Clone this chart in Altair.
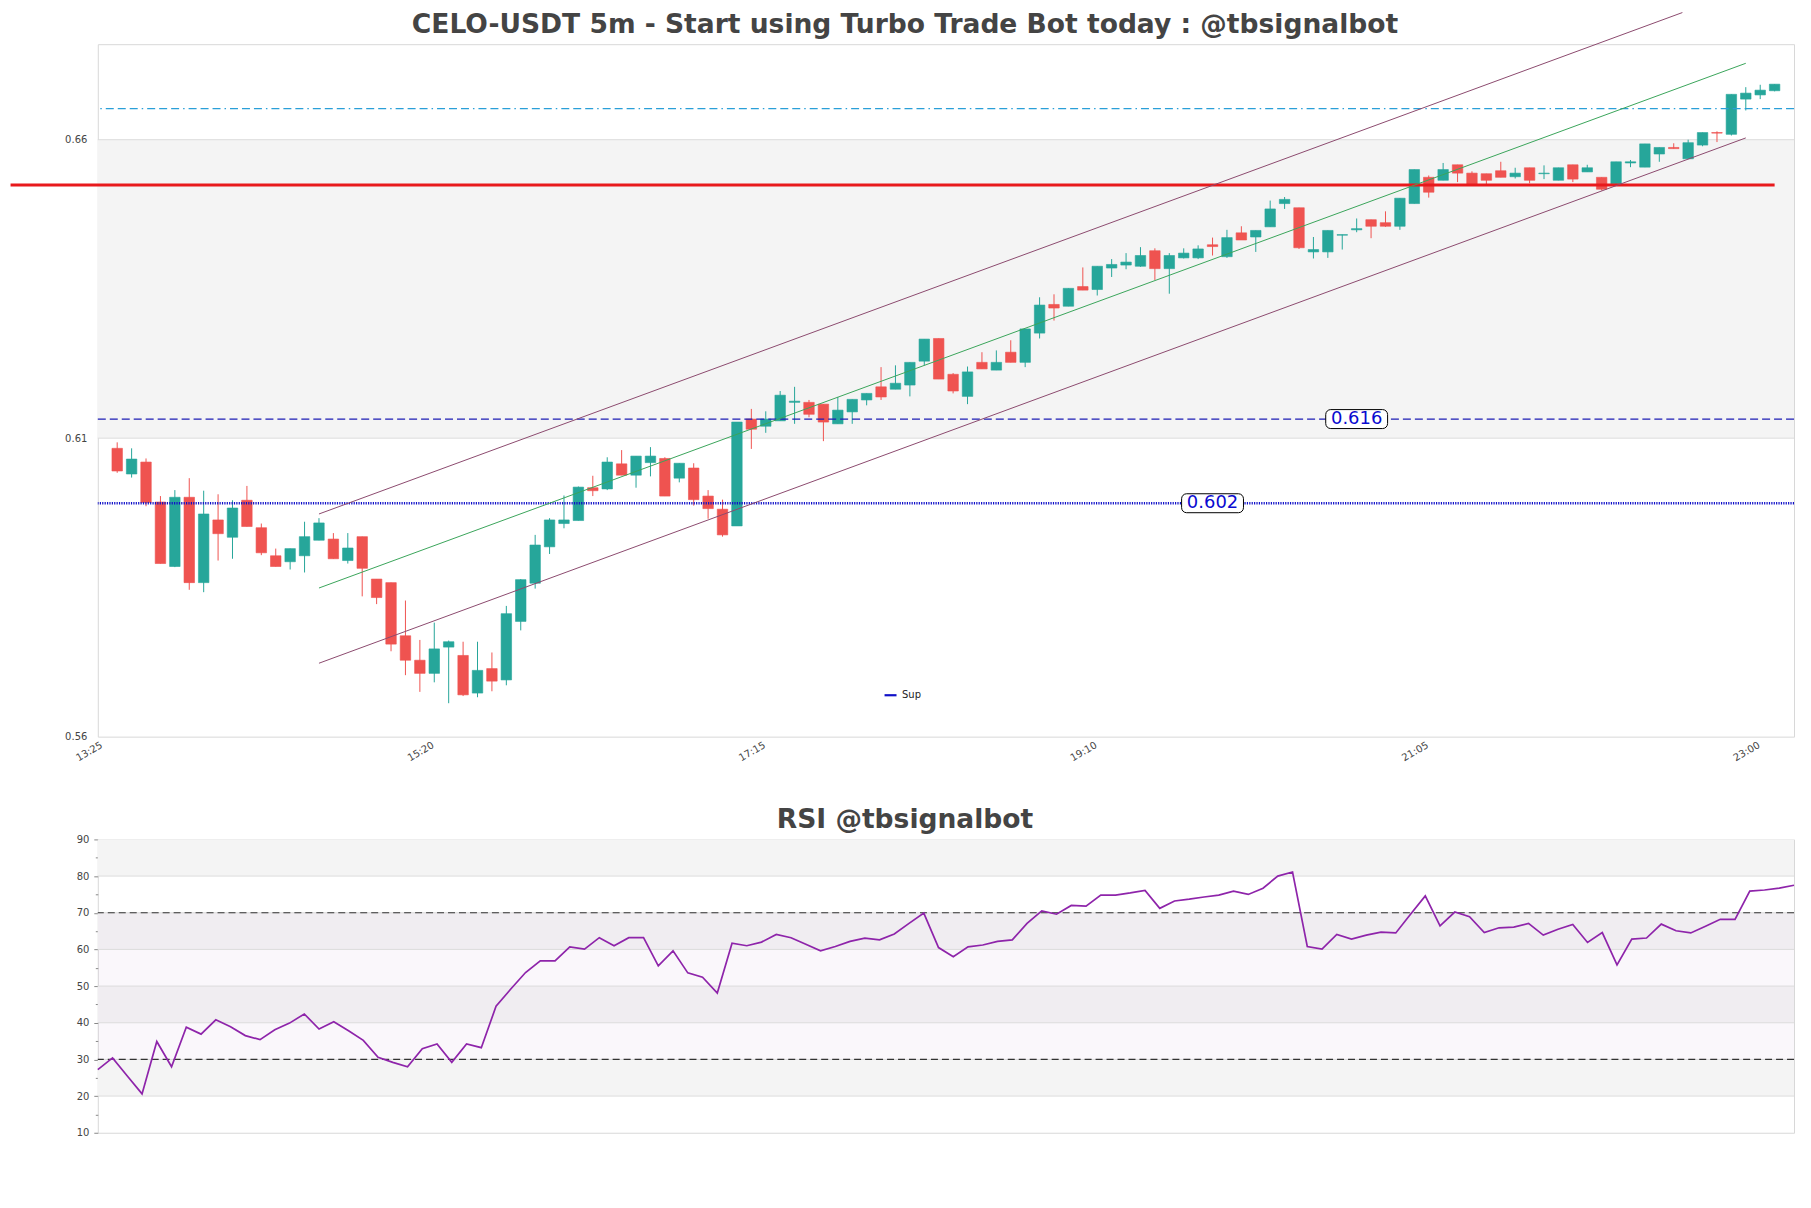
import altair as alt
import pandas as pd

# ---------------- data ----------------
START = "2024-01-01 13:30"   # first candle, 5-minute candles

opens = [0.6083, 0.6040, 0.6060, 0.5993, 0.5885, 0.6001, 0.5858, 0.5963, 0.5934, 0.5996,
         0.5950, 0.5903, 0.5893, 0.5903, 0.5929, 0.5931, 0.5895, 0.5935, 0.5864, 0.5858,
         0.5769, 0.5728, 0.5706, 0.5750, 0.5736, 0.5673, 0.5714, 0.5695, 0.5793, 0.5857,
         0.5918, 0.5957, 0.5962, 0.6017, 0.6015, 0.6057, 0.6038, 0.6059, 0.6066, 0.6033,
         0.6050, 0.6003, 0.5981, 0.5953, 0.6132, 0.6120, 0.6129, 0.6160, 0.6160, 0.6157,
         0.6124, 0.6144, 0.6164, 0.6186, 0.6182, 0.6189, 0.6229, 0.6267, 0.6207, 0.6170,
         0.6227, 0.6214, 0.6244, 0.6227, 0.6276, 0.6324, 0.6321, 0.6354, 0.6349, 0.6385,
         0.6390, 0.6388, 0.6414, 0.6384, 0.6402, 0.6402, 0.6424, 0.6404, 0.6444, 0.6437,
         0.6454, 0.6493, 0.6486, 0.6412, 0.6412, 0.6440, 0.6449, 0.6466, 0.6461, 0.6455,
         0.6493, 0.6537, 0.6532, 0.6558, 0.6544, 0.6543, 0.6548, 0.6538, 0.6553, 0.6543,
         0.6532, 0.6558, 0.6546, 0.6537, 0.6526, 0.6561, 0.6554, 0.6576, 0.6587, 0.6568,
         0.6591, 0.6612, 0.6609, 0.6668, 0.6675, 0.6682]

highs = [0.6093, 0.6083, 0.6066, 0.6003, 0.6013, 0.6033, 0.6012, 0.6006, 0.5996, 0.6020,
         0.5957, 0.5915, 0.5915, 0.5960, 0.5966, 0.5941, 0.5941, 0.5935, 0.5864, 0.5858,
         0.5828, 0.5762, 0.5791, 0.5761, 0.5759, 0.5759, 0.5741, 0.5819, 0.5864, 0.5938,
         0.5966, 0.6004, 0.6019, 0.6037, 0.6068, 0.6080, 0.6070, 0.6085, 0.6068, 0.6058,
         0.6058, 0.6013, 0.5997, 0.6127, 0.6149, 0.6145, 0.6179, 0.6186, 0.6164, 0.6157,
         0.6169, 0.6165, 0.6175, 0.6219, 0.6222, 0.6227, 0.6266, 0.6267, 0.6209, 0.6220,
         0.6244, 0.6247, 0.6264, 0.6283, 0.6336, 0.6341, 0.6351, 0.6386, 0.6388, 0.6400,
         0.6410, 0.6420, 0.6418, 0.6410, 0.6418, 0.6423, 0.6436, 0.6449, 0.6455, 0.6448,
         0.6498, 0.6504, 0.6486, 0.6437, 0.6448, 0.6441, 0.6468, 0.6466, 0.6480, 0.6502,
         0.6550, 0.6540, 0.6561, 0.6558, 0.6547, 0.6543, 0.6563, 0.6553, 0.6553, 0.6557,
         0.6553, 0.6558, 0.6558, 0.6537, 0.6563, 0.6566, 0.6593, 0.6587, 0.6594, 0.6600,
         0.6612, 0.6614, 0.6676, 0.6688, 0.6692, 0.6693]

lows = [0.6042, 0.6034, 0.5986, 0.5890, 0.5884, 0.5846, 0.5842, 0.5895, 0.5898, 0.5952,
        0.5904, 0.5885, 0.5880, 0.5875, 0.5929, 0.5898, 0.5890, 0.5835, 0.5822, 0.5743,
        0.5703, 0.5675, 0.5691, 0.5656, 0.5668, 0.5666, 0.5676, 0.5686, 0.5778, 0.5848,
        0.5906, 0.5949, 0.5962, 0.6003, 0.6013, 0.6038, 0.6017, 0.6036, 0.6003, 0.6026,
        0.5987, 0.5965, 0.5935, 0.5953, 0.6082, 0.6109, 0.6129, 0.6124, 0.6135, 0.6095,
        0.6124, 0.6124, 0.6155, 0.6164, 0.6182, 0.6170, 0.6222, 0.6199, 0.6175, 0.6157,
        0.6216, 0.6214, 0.6227, 0.6219, 0.6267, 0.6297, 0.6321, 0.6348, 0.6339, 0.6370,
        0.6383, 0.6387, 0.6365, 0.6342, 0.6401, 0.6400, 0.6406, 0.6402, 0.6432, 0.6412,
        0.6454, 0.6484, 0.6417, 0.6401, 0.6402, 0.6416, 0.6445, 0.6435, 0.6454, 0.6449,
        0.6493, 0.6503, 0.6532, 0.6529, 0.6524, 0.6524, 0.6537, 0.6535, 0.6527, 0.6534,
        0.6532, 0.6529, 0.6546, 0.6515, 0.6524, 0.6554, 0.6554, 0.6563, 0.6585, 0.6568,
        0.6589, 0.6596, 0.6607, 0.6649, 0.6668, 0.6681]

closes = [0.6045, 0.6065, 0.5992, 0.5890, 0.6001, 0.5858, 0.5973, 0.5940, 0.5983, 0.5952,
          0.5908, 0.5885, 0.5915, 0.5935, 0.5958, 0.5898, 0.5916, 0.5882, 0.5833, 0.5755,
          0.5728, 0.5706, 0.5747, 0.5759, 0.5670, 0.5711, 0.5693, 0.5806, 0.5863, 0.5921,
          0.5963, 0.5963, 0.6018, 0.6012, 0.6060, 0.6038, 0.6070, 0.6070, 0.6003, 0.6058,
          0.5997, 0.5982, 0.5938, 0.6127, 0.6115, 0.6132, 0.6172, 0.6162, 0.6140, 0.6127,
          0.6147, 0.6165, 0.6175, 0.6169, 0.6192, 0.6227, 0.6266, 0.6199, 0.6179, 0.6211,
          0.6216, 0.6227, 0.6227, 0.6283, 0.6323, 0.6318, 0.6351, 0.6348, 0.6388, 0.6391,
          0.6395, 0.6406, 0.6384, 0.6406, 0.6410, 0.6417, 0.6421, 0.6436, 0.6432, 0.6448,
          0.6484, 0.6500, 0.6419, 0.6416, 0.6448, 0.6441, 0.6451, 0.6455, 0.6455, 0.6502,
          0.6550, 0.6512, 0.6550, 0.6544, 0.6524, 0.6532, 0.6537, 0.6544, 0.6532, 0.6544,
          0.6553, 0.6534, 0.6553, 0.6517, 0.6563, 0.6563, 0.6593, 0.6587, 0.6585, 0.6595,
          0.6612, 0.6611, 0.6676, 0.6678, 0.6683, 0.6693]

rsi = [27.2, 30.4, 25.5, 20.6, 34.9, 28.0, 38.8, 36.9, 40.8, 38.9,
       36.5, 35.4, 38.1, 39.9, 42.4, 38.3, 40.3, 37.8, 35.2, 30.6,
       29.2, 28.0, 32.9, 34.2, 29.2, 34.2, 33.2, 44.5, 49.2, 53.7,
       56.9, 56.9, 60.7, 60.1, 63.2, 61.0, 63.2, 63.2, 55.5, 59.6,
       53.6, 52.4, 48.1, 61.7, 61.0, 62.0, 64.1, 63.2, 61.4, 59.6,
       60.8, 62.2, 63.1, 62.6, 64.2, 67.1, 69.9, 60.5, 58.0, 60.7,
       61.2, 62.2, 62.6, 67.1, 70.5, 69.6, 72.0, 71.8, 74.8, 74.8,
       75.4, 76.1, 71.2, 73.2, 73.7, 74.3, 74.8, 75.9, 75.0, 76.7,
       80.0, 81.1, 60.8, 60.1, 64.1, 62.8, 63.9, 64.7, 64.5, 69.6,
       74.6, 66.4, 70.2, 68.9, 64.6, 65.9, 66.1, 67.1, 63.9, 65.5,
       66.8, 61.9, 64.6, 55.8, 62.8, 63.1, 66.9, 65.1, 64.5, 66.3,
       68.2, 68.2, 75.9, 76.2, 76.7, 77.5]

# x-axis tick labels
tick_times = ["13:25", "15:20", "17:15", "19:10", "21:05", "23:00"]
x_start, x_end = "13:25", "23:10"
rsi_x_start, rsi_x_end = "13:30", "23:05"
price_ticks = [0.56, 0.61, 0.66]
price_domain = [0.56, 0.676]
price_band = [0.61, 0.66]

# horizontal levels
resist_level = 0.6524           # thick red line
resist_times = ["12:53", "23:05"]
top_level = 0.6652              # light blue dash-dot
sup1_level, sup1_label, sup1_label_time = 0.6132, "0.616", "20:40"
sup2_level, sup2_label, sup2_label_time = 0.5991, "0.602", "19:50"

# regression channel
chan_times = ["14:40", "22:55"]
chan_mid = [0.5849, 0.6728]
chan_low = [0.5723, 0.6603]
chan_up_times = ["14:40", "22:33"]
chan_up = [0.5973, 0.6813]

# RSI panel
rsi_ticks = list(range(10, 95, 5))
rsi_gray_lo = [20, 40, 60, 80]
rsi_gray_hi = [30, 50, 70, 90]
rsi_grid = [20, 30, 40, 50, 60, 70, 80]
rsi_levels = [30, 70]

GREEN, RED = "#26a69a", "#ef5350"
FONT = "DejaVu Sans"

# ---------------- helpers ----------------
DAY = "2024-01-01"


def ts(hm):
    parts = hm.split(":")
    if len(parts) == 2:
        hm = hm + ":00"
    return f"{DAY}T{hm}"


def dt(hm):
    p = [int(v) for v in hm.split(":")]
    s = p[2] if len(p) > 2 else 0
    return alt.DateTime(year=2024, month=1, date=1, hours=p[0], minutes=p[1], seconds=s)


times = pd.date_range(START, periods=len(opens), freq="5min")
tstr = [t.strftime("%Y-%m-%dT%H:%M:%S") for t in times]

candles = pd.DataFrame({"t": tstr, "open": opens, "high": highs,
                        "low": lows, "close": closes})

xsc = alt.Scale(domain=[dt(x_start), dt(x_end)], nice=False)
xax = alt.Axis(values=[dt(t) for t in tick_times], format="%H:%M", labelAngle=330,
               labelAlign="right", labelBaseline="top", ticks=False, grid=False,
               domain=False, labelPadding=3, labelOffset=-4, labelFontSize=10,
               labelColor="#444", labelFont=FONT)
ysc = alt.Scale(domain=price_domain, nice=False, zero=False)
yax = alt.Axis(values=price_ticks, format=".2f", ticks=False, grid=False, domain=False,
               labelPadding=11, labelFontSize=10, labelColor="#444", labelFont=FONT)


def X(f):
    return alt.X(f, type="temporal", scale=xsc, axis=xax, title=None)


def Y(f):
    return alt.Y(f, type="quantitative", scale=ysc, axis=yax, title=None)


up_cond = alt.condition("datum.close >= datum.open", alt.value(GREEN), alt.value(RED))

band = alt.Chart(pd.DataFrame({"lo": [price_band[0]], "hi": [price_band[1]]})).mark_rect(
    color="#f4f4f4").encode(y=Y("lo"), y2="hi")
grid = alt.Chart(pd.DataFrame({"v": price_ticks[1:]})).mark_rule(
    color="#dcdcdc", strokeWidth=1).encode(y=Y("v"))

wicks = alt.Chart(candles).mark_rule(strokeWidth=1).encode(
    x=X("t"), y=Y("low"), y2="high", color=up_cond)
bodies = alt.Chart(candles).mark_bar(size=10.5, strokeWidth=0.6).encode(
    x=X("t"), y=Y("open"), y2="close", color=up_cond, stroke=up_cond)

top_line = alt.Chart(pd.DataFrame({"v": [top_level]})).mark_rule(
    color="#2a9fd8", strokeWidth=1.3, strokeDash=[8, 4, 8, 4, 8, 4, 1.5, 4]).encode(y=Y("v"))
sup1_line = alt.Chart(pd.DataFrame({"v": [sup1_level]})).mark_rule(
    color="#1c1cb4", strokeWidth=1.2, strokeDash=[8, 4]).encode(y=Y("v"))
sup2_line = alt.Chart(pd.DataFrame({"v": [sup2_level], "name": ["Sup"]})).mark_rule(
    strokeWidth=2.4, strokeDash=[1.2, 1.2]).encode(
    y=Y("v"),
    color=alt.Color("name:N", scale=alt.Scale(domain=["Sup"], range=["#1010c8"]),
                    legend=alt.Legend(title=None, orient="none", legendX=787, legendY=645,
                                      symbolType="stroke", symbolStrokeWidth=2.2,
                                      symbolSize=144, symbolDash=[20, 0],
                                      labelFontSize=10, labelFont=FONT,
                                      labelColor="#222")))

resist = alt.Chart(pd.DataFrame({"t0": [ts(resist_times[0])], "t1": [ts(resist_times[1])],
                                 "v": [resist_level]})).mark_rule(
    color="#e8191c", strokeWidth=3).encode(x=X("t0"), x2="t1", y=Y("v"))

chan_df = pd.DataFrame({
    "t": [ts(t) for t in chan_times] + [ts(t) for t in chan_up_times],
    "v": chan_low + chan_up,
    "name": ["low", "low", "up", "up"]})
chan_edges = alt.Chart(chan_df).mark_line(color="#8c4a6e", strokeWidth=1).encode(
    x=X("t"), y=Y("v"), detail="name:N")
chan_center = alt.Chart(pd.DataFrame({"t": [ts(t) for t in chan_times], "v": chan_mid})).mark_line(
    color="#3aa55a", strokeWidth=1).encode(x=X("t"), y=Y("v"))

lab_df = pd.DataFrame({"t": [ts(sup1_label_time), ts(sup2_label_time)],
                       "v": [sup1_level, sup2_level],
                       "txt": [sup1_label, sup2_label]})
lab_box = alt.Chart(lab_df).mark_rect(width=62, height=19, cornerRadius=5, fill="white",
                                      stroke="black", strokeWidth=1).encode(x=X("t"), y=Y("v"))
lab_txt = alt.Chart(lab_df).mark_text(fontSize=18, font=FONT, color="#0a0ad0",
                                      baseline="middle", align="center").encode(
    x=X("t"), y=Y("v"), text="txt:N")

main = alt.layer(band, grid, wicks, bodies, top_line, sup1_line, sup2_line, resist,
                 chan_edges, chan_center, lab_box, lab_txt).properties(
    width=1700, height=694,
    title=alt.TitleParams("CELO-USDT 5m - Start using Turbo Trade Bot today : @tbsignalbot",
                          fontSize=26.6, font=FONT, fontWeight="bold", color="#444",
                          anchor="middle", frame="group", dx=-41, offset=-28))

# ---------------- RSI panel ----------------
rxsc = alt.Scale(domain=[dt(rsi_x_start), dt(rsi_x_end)], nice=False)
rysc = alt.Scale(domain=[10, 90], nice=False, zero=False)
ryax = alt.Axis(values=rsi_ticks, labelExpr="datum.value % 10 == 0 ? datum.label : ''",
                tickSize={"condition": {"test": "datum.value % 10 == 0", "value": 4},
                          "value": 2.5},
                tickColor="#888", domain=False, grid=False, labelPadding=5,
                labelFontSize=10, labelColor="#444", labelFont=FONT)


def RY(f):
    return alt.Y(f, type="quantitative", scale=rysc, axis=ryax, title=None)


rsi_df = pd.DataFrame({"t": tstr, "rsi": rsi})

r_bands = alt.Chart(pd.DataFrame({"lo": rsi_gray_lo, "hi": rsi_gray_hi})).mark_rect(
    color="#f4f4f4").encode(y=RY("lo"), y2="hi")
r_hatch = alt.Chart(pd.DataFrame({"lo": [rsi_levels[0]], "hi": [rsi_levels[1]]})).mark_rect(
    color="#c8a8d0", opacity=0.09).encode(y=RY("lo"), y2="hi")
r_grid = alt.Chart(pd.DataFrame({"v": rsi_grid})).mark_rule(
    color="#dcdcdc", strokeWidth=1).encode(y=RY("v"))
r_levels = alt.Chart(pd.DataFrame({"v": rsi_levels})).mark_rule(
    color="#333", strokeWidth=1.2, strokeDash=[7, 4]).encode(y=RY("v"))
r_line = alt.Chart(rsi_df).mark_line(color="#8e24aa", strokeWidth=1.7).encode(
    x=alt.X("t:T", scale=rxsc, axis=None, title=None), y=RY("rsi"))

rsi_chart = alt.layer(r_bands, r_hatch, r_grid, r_levels, r_line).properties(
    width=1700, height=294,
    title=alt.TitleParams("RSI @tbsignalbot", fontSize=26.6, font=FONT, fontWeight="bold",
                          color="#444", anchor="middle", frame="group", dx=-41, offset=1))

chart = alt.vconcat(main, rsi_chart, spacing=103, bounds="flush").configure_view(
    stroke="#d8d8d8").properties(
    padding={"left": 0, "top": 0, "right": 5, "bottom": 5})

chart.save("out.html", embed_options={"renderer": "svg", "actions": False})
